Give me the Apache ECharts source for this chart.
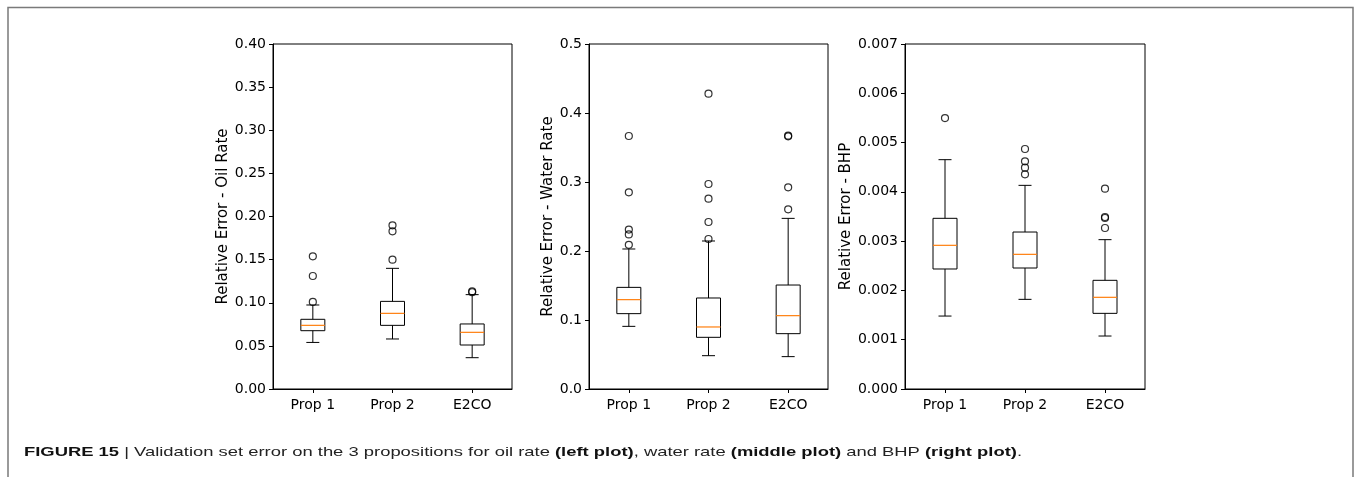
<!DOCTYPE html>
<html>
<head>
<meta charset="utf-8">
<script src="https://cdn.jsdelivr.net/npm/echarts@6/dist/echarts.min.js"></script>
<style>
  html, body { margin: 0; padding: 0; background: #fff; }
  #chart { width: 1356px; height: 477px; }
</style>
</head>
<body>
<div id="chart"></div>
<script>
const categories = ['Prop 1', 'Prop 2', 'E2CO'];

// [category index, low whisker, Q1, median, Q3, high whisker]
const oilBoxes = [
  [0, 0.054, 0.0676, 0.0738, 0.0808, 0.0974],
  [1, 0.058, 0.0738, 0.0877, 0.1016, 0.1399],
  [2, 0.0363, 0.051, 0.0657, 0.0754, 0.1094]
];
const oilOutliers = [
  [0, 0.1009], [0, 0.131], [0, 0.1538],
  [1, 0.150], [1, 0.1828], [1, 0.1898],
  [2, 0.1122], [2, 0.1132]
];

const waterBoxes = [
  [0, 0.0908, 0.1092, 0.1295, 0.1473, 0.2029],
  [1, 0.0483, 0.0749, 0.0899, 0.1319, 0.2145],
  [2, 0.0469, 0.0802, 0.1063, 0.1507, 0.2473]
];
const waterOutliers = [
  [0, 0.209], [0, 0.224], [0, 0.231], [0, 0.285], [0, 0.3667],
  [1, 0.2174], [1, 0.242], [1, 0.2758], [1, 0.2971], [1, 0.428],
  [2, 0.2604], [2, 0.2923], [2, 0.3662], [2, 0.3671]
];

const bhpBoxes = [
  [0, 0.00148, 0.002435, 0.002915, 0.003463, 0.004653],
  [1, 0.001819, 0.002455, 0.002732, 0.003185, 0.004132],
  [2, 0.001075, 0.001535, 0.00186, 0.002205, 0.00303]
];
const bhpOutliers = [
  [0, 0.005498],
  [1, 0.004355], [1, 0.004491], [1, 0.004619], [1, 0.00487],
  [2, 0.003267], [2, 0.00347], [2, 0.00349], [2, 0.004065]
];

const yNames = ['Relative Error - Oil Rate', 'Relative Error - Water Rate', 'Relative Error - BHP'];
const yMax = [0.4, 0.5, 0.007];
const yStep = [0.05, 0.1, 0.001];
const yDecimals = [2, 1, 3];

const FONT = 'DejaVu Sans';
const chart = echarts.init(document.getElementById('chart'));

const grids = [
  { left: 273, top: 44, width: 239, height: 345 },
  { left: 589, top: 44, width: 239, height: 345 },
  { left: 905, top: 44, width: 240, height: 345 }
];
const nameGaps = [42, 33, 50];

function renderBox(params, api) {
  const x = api.value(0);
  const pLow = api.coord([x, api.value(1)]);
  const pQ1 = api.coord([x, api.value(2)]);
  const pMed = api.coord([x, api.value(3)]);
  const pQ3 = api.coord([x, api.value(4)]);
  const pHigh = api.coord([x, api.value(5)]);
  const cx = pLow[0];
  const hw = 12;
  const cw = 6.5;
  const line = { stroke: '#000', lineWidth: 1 };
  return {
    type: 'group',
    children: [
      { type: 'line', shape: { x1: cx, y1: pLow[1], x2: cx, y2: pQ1[1] }, style: line },
      { type: 'line', shape: { x1: cx, y1: pQ3[1], x2: cx, y2: pHigh[1] }, style: line },
      { type: 'line', shape: { x1: cx - cw, y1: pLow[1], x2: cx + cw, y2: pLow[1] }, style: line },
      { type: 'line', shape: { x1: cx - cw, y1: pHigh[1], x2: cx + cw, y2: pHigh[1] }, style: line },
      { type: 'rect', shape: { x: cx - hw, y: pQ3[1], width: hw * 2, height: pQ1[1] - pQ3[1] },
        style: { fill: 'none', stroke: '#000', lineWidth: 1 } },
      { type: 'line', shape: { x1: cx - hw, y1: pMed[1], x2: cx + hw, y2: pMed[1] },
        style: { stroke: '#ff7f0e', lineWidth: 1.2 } }
    ]
  };
}

const boxSets = [oilBoxes, waterBoxes, bhpBoxes];
const outlierSets = [oilOutliers, waterOutliers, bhpOutliers];

const series = [];
boxSets.forEach(function (boxes, i) {
  series.push({
    type: 'custom',
    xAxisIndex: i,
    yAxisIndex: i,
    renderItem: renderBox,
    encode: { x: 0, y: [1, 2, 3, 4, 5] },
    data: boxes,
    silent: true,
    z: 2
  });
  series.push({
    type: 'scatter',
    xAxisIndex: i,
    yAxisIndex: i,
    symbol: 'circle',
    symbolSize: 7,
    itemStyle: { color: 'rgba(0,0,0,0)', borderColor: '#000', borderWidth: 1.2 },
    data: outlierSets[i],
    silent: true,
    z: 3
  });
});

const option = {
  animation: false,
  backgroundColor: '#fff',
  grid: grids.map(function (g) {
    return Object.assign({ show: true, borderColor: '#000', borderWidth: 1,
      backgroundColor: 'rgba(0,0,0,0)', outerBoundsMode: 'none' }, g);
  }),
  xAxis: grids.map(function (g, i) {
    return {
      type: 'category',
      gridIndex: i,
      data: categories,
      axisLine: { lineStyle: { color: '#000', width: 1 } },
      axisTick: { show: true, alignWithLabel: true, length: 4, lineStyle: { color: '#000' } },
      axisLabel: { color: '#000', fontFamily: FONT, fontSize: 14, margin: 9 },
      splitLine: { show: false }
    };
  }),
  yAxis: grids.map(function (g, i) {
    return {
      type: 'value',
      gridIndex: i,
      min: 0,
      max: yMax[i],
      interval: yStep[i],
      name: yNames[i],
      nameLocation: 'middle',
      nameGap: nameGaps[i],
      nameTextStyle: { color: '#000', fontFamily: FONT, fontSize: 15 },
      axisLine: { show: true, lineStyle: { color: '#000', width: 1 } },
      axisTick: { show: true, length: 4, lineStyle: { color: '#000' } },
      axisLabel: {
        color: '#000', fontFamily: FONT, fontSize: 14, margin: 7,
        formatter: function (v) { return v.toFixed(yDecimals[i]); }
      },
      splitLine: { show: false }
    };
  }),
  series: series,
  graphic: [
    {
      type: 'polyline',
      shape: { points: [[8, 477], [8, 7.5], [1353, 7.5], [1353, 477]] },
      style: { fill: 'none', stroke: '#7a7a7a', lineWidth: 1.5 },
      silent: true
    },
    {
      type: 'text',
      x: 24,
      y: 452,
      scaleX: 1.415,
      style: {
        text: '{b|FIGURE 15} {r||} Validation set error on the 3 propositions for oil rate {b|(left plot)}, water rate {b|(middle plot)} and BHP {b|(right plot)}.',
        fontFamily: 'Liberation Sans',
        fontSize: 13,
        fill: '#222',
        verticalAlign: 'middle',
        rich: {
          b: { fontFamily: 'Liberation Sans', fontSize: 13, fontWeight: 'bold', fill: '#111' },
          r: { fontFamily: 'Liberation Sans', fontSize: 13, fill: '#222' }
        }
      },
      silent: true
    }
  ]
};

chart.setOption(option);
</script>
</body>
</html>
